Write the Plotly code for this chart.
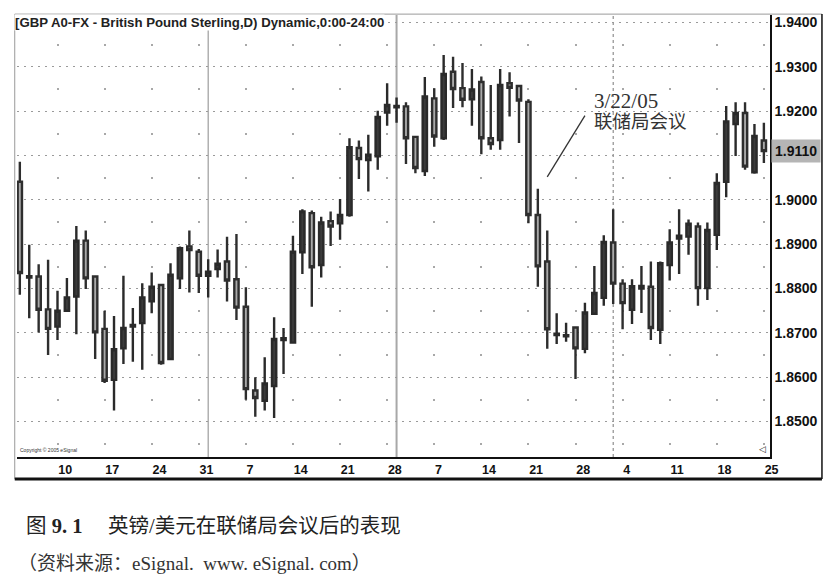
import pandas as pd
import plotly.graph_objects as go

# ---------------- data ----------------
start_date = "2005-01-04"
n_bars = 80

opens = [1.9041, 1.8825, 1.8827, 1.8753, 1.8714, 1.8750, 1.8782, 1.8908, 1.8827, 1.8709,
         1.8594, 1.8665, 1.8714, 1.8722, 1.8771, 1.8808, 1.8641, 1.8823, 1.8895, 1.8883,
         1.8829, 1.8844, 1.8861, 1.8821, 1.8759, 1.8570, 1.8547, 1.8580, 1.8684, 1.8678,
         1.8882, 1.8970, 1.8853, 1.8952, 1.8947, 1.8966, 1.9117, 1.9090, 1.9098, 1.9197,
         1.9209, 1.9211, 1.9142, 1.9065, 1.9229, 1.9139, 1.9289, 1.9252, 1.9227, 1.9266,
         1.9139, 1.9135, 1.9263, 1.9257, 1.9221, 1.8966, 1.8861, 1.8695, 1.8692, 1.8712,
         1.8664, 1.8743, 1.8779, 1.8904, 1.8811, 1.8752, 1.8800, 1.8804, 1.8707, 1.8853,
         1.8913, 1.8917, 1.8940, 1.8801, 1.8921, 1.9041, 1.9171, 1.9196, 1.9062, 1.9134]
highs = [1.9086, 1.8899, 1.8855, 1.8865, 1.8795, 1.8824, 1.8941, 1.8931, 1.8830, 1.8750,
         1.8738, 1.8829, 1.8756, 1.8812, 1.8836, 1.8810, 1.8857, 1.8895, 1.8931, 1.8889,
         1.8866, 1.8888, 1.8917, 1.8923, 1.8803, 1.8600, 1.8645, 1.8735, 1.8711, 1.8919,
         1.8979, 1.8976, 1.8962, 1.8974, 1.9002, 1.9139, 1.9134, 1.9147, 1.9201, 1.9263,
         1.9231, 1.9220, 1.9143, 1.9277, 1.9252, 1.9327, 1.9323, 1.9309, 1.9295, 1.9278,
         1.9259, 1.9295, 1.9288, 1.9259, 1.9227, 1.9025, 1.8931, 1.8744, 1.8723, 1.8714,
         1.8768, 1.8851, 1.8920, 1.8979, 1.8821, 1.8821, 1.8851, 1.8861, 1.8861, 1.8934,
         1.8979, 1.8956, 1.8949, 1.8949, 1.9060, 1.9212, 1.9220, 1.9220, 1.9171, 1.9174]
lows = [1.8786, 1.8733, 1.8701, 1.8650, 1.8684, 1.8748, 1.8697, 1.8799, 1.8641, 1.8587,
        1.8525, 1.8630, 1.8635, 1.8617, 1.8744, 1.8628, 1.8638, 1.8799, 1.8791, 1.8790,
        1.8780, 1.8825, 1.8771, 1.8729, 1.8549, 1.8511, 1.8525, 1.8508, 1.8607, 1.8677,
        1.8833, 1.8759, 1.8825, 1.8896, 1.8910, 1.8962, 1.9047, 1.9019, 1.9068, 1.9167,
        1.9174, 1.9081, 1.9060, 1.9054, 1.9120, 1.9135, 1.9207, 1.9209, 1.9167, 1.9103,
        1.9113, 1.9113, 1.9188, 1.9128, 1.8947, 1.8804, 1.8664, 1.8675, 1.8680, 1.8596,
        1.8654, 1.8742, 1.8761, 1.8765, 1.8708, 1.8720, 1.8745, 1.8684, 1.8675, 1.8818,
        1.8833, 1.8876, 1.8761, 1.8774, 1.8887, 1.9006, 1.9099, 1.9068, 1.9059, 1.9083]
closes = [1.8835, 1.8828, 1.8752, 1.8709, 1.8750, 1.8780, 1.8908, 1.8823, 1.8701, 1.8592,
          1.8663, 1.8711, 1.8718, 1.8780, 1.8804, 1.8632, 1.8831, 1.8891, 1.8887, 1.8829,
          1.8838, 1.8856, 1.8818, 1.8757, 1.8573, 1.8553, 1.8586, 1.8686, 1.8688, 1.8883,
          1.8974, 1.8848, 1.8949, 1.8940, 1.8966, 1.9119, 1.9092, 1.9102, 1.9187, 1.9214,
          1.9212, 1.9139, 1.9072, 1.9233, 1.9143, 1.9284, 1.9250, 1.9226, 1.9249, 1.9139,
          1.9126, 1.9259, 1.9253, 1.9224, 1.8966, 1.8850, 1.8708, 1.8698, 1.8695, 1.8665,
          1.8746, 1.8790, 1.8905, 1.8811, 1.8767, 1.8805, 1.8806, 1.8711, 1.8857, 1.8904,
          1.8919, 1.8946, 1.8801, 1.8932, 1.9038, 1.9177, 1.9196, 1.9075, 1.9144, 1.9110]

tick_labels = ["10", "17", "24", "31", "7", "14", "21", "28",
               "7", "14", "21", "28", "4", "11", "18", "25"]
price_ticks = [1.85, 1.86, 1.87, 1.88, 1.89, 1.90, 1.91, 1.92, 1.93, 1.94]

header_text = "[GBP A0-FX - British Pound Sterling,D) Dynamic,0:00-24:00"
event_date = "3/22/05"
event_label = "联储局会议"
caption_title = "图 <b>9. 1</b>　 英镑/美元在联储局会议后的表现"
caption_source = "（资料来源：eSignal.  www. eSignal. com）"

# ---------------- derived positions ----------------
dates = pd.bdate_range(start_date, periods=n_bars)
idx = list(range(n_bars))
tick_idx = [i for i, d in enumerate(dates) if d.weekday() == 0]
month_starts = [i for i in range(1, n_bars) if dates[i].month != dates[i - 1].month]
sep_styles = [("#9c9c9c", 1.2, "solid"), ("#a8a8a8", 2, "solid"), ("#777777", 1, "dot")]
price_text = [f"{v:.4f}" if abs(v - closes[-1]) > 0.003 else "" for v in price_ticks]

fig = go.Figure()
fig.add_trace(go.Candlestick(
    x=idx, open=opens, high=highs, low=lows, close=closes,
    increasing=dict(fillcolor="#3b3b3b", line=dict(color="#2a2a2a", width=2.4)),
    decreasing=dict(fillcolor="#a9a9a9", line=dict(color="#2e2e2e", width=2.4)),
    whiskerwidth=0, showlegend=False, hoverinfo="skip",
))

shapes = []
for k, i in enumerate(month_starts):
    c, w, d = sep_styles[k % len(sep_styles)]
    shapes.append(dict(type="line", xref="x", yref="paper", x0=i, x1=i, y0=0, y1=1,
                       line=dict(color=c, width=w, dash=d), layer="below"))
# annotation pointer line
shapes.append(dict(type="line", xref="x", yref="y", x0=60.0, y0=1.9190, x1=56.0, y1=1.9052,
                   line=dict(color="#333333", width=1.3)))
# outer frame
shapes += [
    dict(type="line", xref="paper", yref="paper", x0=-0.003, x1=1.069, y0=1.002, y1=1.002,
         line=dict(color="#9a9a9a", width=1)),
    dict(type="line", xref="paper", yref="paper", x0=-0.003, x1=-0.003, y0=-0.05, y1=1.002,
         line=dict(color="#9a9a9a", width=1)),
    dict(type="line", xref="paper", yref="paper", x0=1.069, x1=1.069, y0=-0.05, y1=1.002,
         line=dict(color="#111111", width=1.5)),
    dict(type="line", xref="paper", yref="paper", x0=-0.003, x1=1.069, y0=-0.05, y1=-0.05,
         line=dict(color="#111111", width=3)),
]

x_font = dict(family="Liberation Sans, Arial, sans-serif", size=12.5, color="#111111", weight="bold")
y_font = dict(family="Liberation Sans, Arial, sans-serif", size=14, color="#111111", weight="bold")
serif_cjk = "Liberation Serif, Noto Sans CJK SC"

annotations = [
    dict(xref="paper", yref="paper", x=0, y=1, xanchor="left", yanchor="top", xshift=-3, yshift=1,
         text=header_text, showarrow=False, bgcolor="white", borderpad=0,
         font=dict(family="Liberation Sans, Arial, sans-serif", size=13.2, color="#222222", weight="bold")),
    dict(xref="paper", yref="y", x=1, y=closes[-1], xanchor="left", yanchor="middle", xshift=1,
         text=f"{closes[-1]:.4f}", showarrow=False, bgcolor="#b5b5b5", borderpad=3,
         font=y_font),
    dict(xref="x", yref="y", x=60.7, y=1.9223, xanchor="left", yanchor="middle",
         text=event_date, showarrow=False,
         font=dict(family=serif_cjk, size=21, color="#333333")),
    dict(xref="x", yref="y", x=60.7, y=1.9176, xanchor="left", yanchor="middle",
         text=event_label, showarrow=False,
         font=dict(family=serif_cjk, size=18.5, color="#333333")),
    dict(xref="paper", yref="paper", x=0, y=0, xanchor="left", yanchor="bottom", xshift=1, yshift=2,
         text="Copyright © 2005 eSignal", showarrow=False,
         font=dict(family="Liberation Sans, Arial", size=5, color="#333333")),
    dict(xref="paper", yref="paper", x=1, y=0, xanchor="right", yanchor="bottom", xshift=-2, yshift=1,
         text="◁", showarrow=False,
         font=dict(family="DejaVu Sans", size=9, color="#222222")),
    dict(xref="paper", yref="paper", x=0, y=-0.156, xanchor="left", yanchor="middle", xshift=7,
         text=caption_title, showarrow=False,
         font=dict(family=serif_cjk, size=20.5, color="#222222")),
    dict(xref="paper", yref="paper", x=0, y=-0.240, xanchor="left", yanchor="middle", xshift=-1,
         text=caption_source, showarrow=False,
         font=dict(family=serif_cjk, size=19, color="#333333")),
]

fig.update_layout(
    width=831, height=573,
    margin=dict(l=9, r=69, t=7, b=124),
    paper_bgcolor="white", plot_bgcolor="white",
    boxgap=0.35, boxgroupgap=0.3,
    shapes=shapes, annotations=annotations,
    xaxis=dict(
        range=[-0.3, 79.65], rangeslider=dict(visible=False),
        tickmode="array", tickvals=tick_idx, ticktext=tick_labels,
        ticklabelposition="outside right", ticks="",
        tickfont=x_font,
        showgrid=True, gridcolor="#a8a8a8", gridwidth=2, griddash="0px,29px,2px,13.33px",
        showline=True, linecolor="#111111", linewidth=1.5,
        zeroline=False, fixedrange=True,
    ),
    yaxis=dict(
        side="right", range=[1.8420, 1.9417],
        tickmode="array", tickvals=price_ticks, ticktext=price_text, ticks="",
        tickfont=y_font,
        showgrid=True, gridcolor="#9a9a9a", gridwidth=1, griddash="2px,5px",
        showline=True, linecolor="#111111", linewidth=1.5,
        zeroline=False, fixedrange=True,
    ),
)

fig.write_html("out.html")
